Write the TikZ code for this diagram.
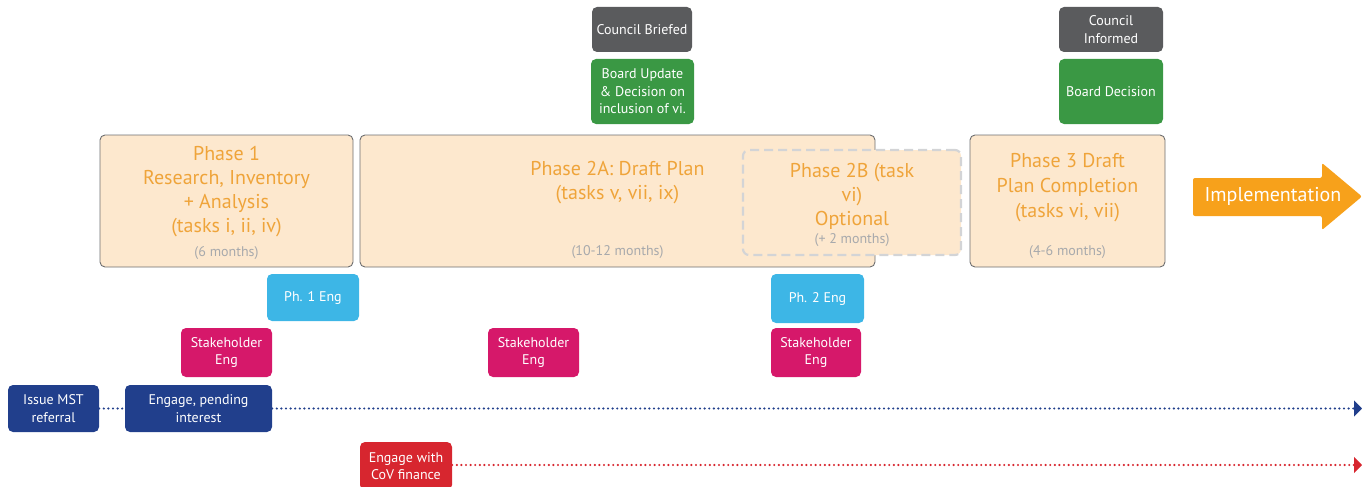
\documentclass[tikz,border=0pt]{standalone}
\usepackage{fontspec}
\setmainfont{PT Sans}
\usetikzlibrary{arrows.meta}

\definecolor{phasefill}{HTML}{FDE8CE}
\definecolor{phaseline}{HTML}{6D6E70}
\definecolor{phasetext}{HTML}{EFA43A}
\definecolor{monthtext}{HTML}{A7A9AC}
\definecolor{optline}{HTML}{D3D4D6}
\definecolor{mstblue}{HTML}{213F8C}
\definecolor{stakepink}{HTML}{D6186A}
\definecolor{engblue}{HTML}{3DB6E6}
\definecolor{boardgreen}{HTML}{3A9844}
\definecolor{councilgray}{HTML}{5A5B5D}
\definecolor{finred}{HTML}{D7262F}
\definecolor{implorange}{HTML}{F7A11B}

\tikzset{
  box/.style={rounded corners=5pt, text=white, align=center, inner sep=0pt,
    font=\fontsize{14}{17.5}\selectfont},
  phase/.style={draw=phaseline, fill=phasefill, rounded corners=5pt, line width=0.9pt, inner sep=0pt},
  phasetitle/.style={text=phasetext, align=center, font=\fontsize{20}{24}\selectfont},
  months/.style={text=monthtext, font=\fontsize{14}{15}\selectfont},
  dotline/.style={line width=2.4pt, line cap=round, dash pattern=on 0pt off 4.6pt}
}

\begin{document}
\begin{tikzpicture}[x=1pt, y=-1pt]
\useasboundingbox (0,0) rectangle (1369,487);

% phases
\node[phase, minimum width=253pt, minimum height=132pt] (ph1) at (226.5,201) {};
\node[phase, minimum width=515pt, minimum height=132pt] (ph2a) at (617.5,201) {};
\node[phase, minimum width=195pt, minimum height=132pt] (ph3) at (1067.5,201) {};
\node[draw=optline, fill=phasefill, rounded corners=6pt, line width=2.2pt, dash pattern=on 9pt off 5pt,
  minimum width=218pt, minimum height=105pt, inner sep=0pt] (ph2b) at (852,202.5) {};

\node[phasetitle] (ph1txt) at (226.5,192) {Phase 1\\Research, Inventory\\+ Analysis\\(tasks i, ii, iv)};
\node[months] (ph1mo) at (226.5,253) {(6 months)};
\node[phasetitle] (ph2atxt) at (617.5,183) {Phase 2A: Draft Plan\\(tasks v, vii, ix)};
\node[months] (ph2amo) at (617.5,252) {(10-12 months)};
\node[phasetitle] (ph2btxt) at (852,196.5) {Phase 2B (task\\vi)\\Optional};
\node[months] (ph2bmo) at (852,240.5) {(+ 2 months)};
\node[phasetitle, font=\fontsize{20}{25}\selectfont] (ph3txt) at (1067.5,187.5) {Phase 3 Draft\\Plan Completion\\(tasks vi, vii)};
\node[months] (ph3mo) at (1067.5,252) {(4-6 months)};

% implementation
\fill[implorange, rounded corners=2pt] (1193,178) -- (1322,178) -- (1322,163) -- (1362,196.5)
  -- (1322,230) -- (1322,216) -- (1193,216) -- cycle;
\node[text=white, font=\fontsize{20}{22}\selectfont] (impl) at (1273,196) {Implementation};

% council and board
\node[box, fill=councilgray, minimum width=100pt, minimum height=45pt] (briefed) at (642,29.5) {Council Briefed};
\node[box, fill=boardgreen, minimum width=103pt, minimum height=65pt] (update) at (642.5,91.5) {Board Update\\\& Decision on\\inclusion of vi.};
\node[box, fill=councilgray, minimum width=104pt, minimum height=45pt] (informed) at (1111,29.5) {Council\\Informed};
\node[box, fill=boardgreen, minimum width=104pt, minimum height=65pt] (decision) at (1111,91.5) {Board Decision};

% engagement
\node[box, fill=engblue, minimum width=92pt, minimum height=47pt] (eng1) at (313,297.5) {Ph. 1 Eng};
\node[box, fill=engblue, minimum width=93pt, minimum height=49pt] (eng2) at (817.5,298.5) {Ph. 2 Eng};
\node[box, fill=stakepink, minimum width=91pt, minimum height=49pt] (stake1) at (226.5,352.5) {Stakeholder\\Eng};
\node[box, fill=stakepink, minimum width=91pt, minimum height=49pt] (stake2) at (533.5,352.5) {Stakeholder\\Eng};
\node[box, fill=stakepink, minimum width=90pt, minimum height=49pt] (stake3) at (816,352.5) {Stakeholder\\Eng};

% MST and finance
\node[box, fill=mstblue, minimum width=91pt, minimum height=47pt] (issue) at (53.5,408.5) {Issue MST\\referral};
\node[box, fill=mstblue, minimum width=147pt, minimum height=47pt] (engage) at (198.5,408.5) {Engage, pending\\interest};
\node[box, fill=finred, minimum width=92pt, minimum height=48pt] (finance) at (406,466) {Engage with\\CoV finance};
\coordinate (blueend) at (1362,408.5);
\coordinate (redend) at (1362,465);

\draw[dotline, mstblue] (issue) -- (engage);
\draw[dotline, mstblue, -{Triangle[length=8pt, width=16pt]}] (engage) -- (blueend);
\draw[dotline, finred, -{Triangle[length=8pt, width=16pt]}] (finance.east |- redend) -- (redend);
\end{tikzpicture}
\end{document}
